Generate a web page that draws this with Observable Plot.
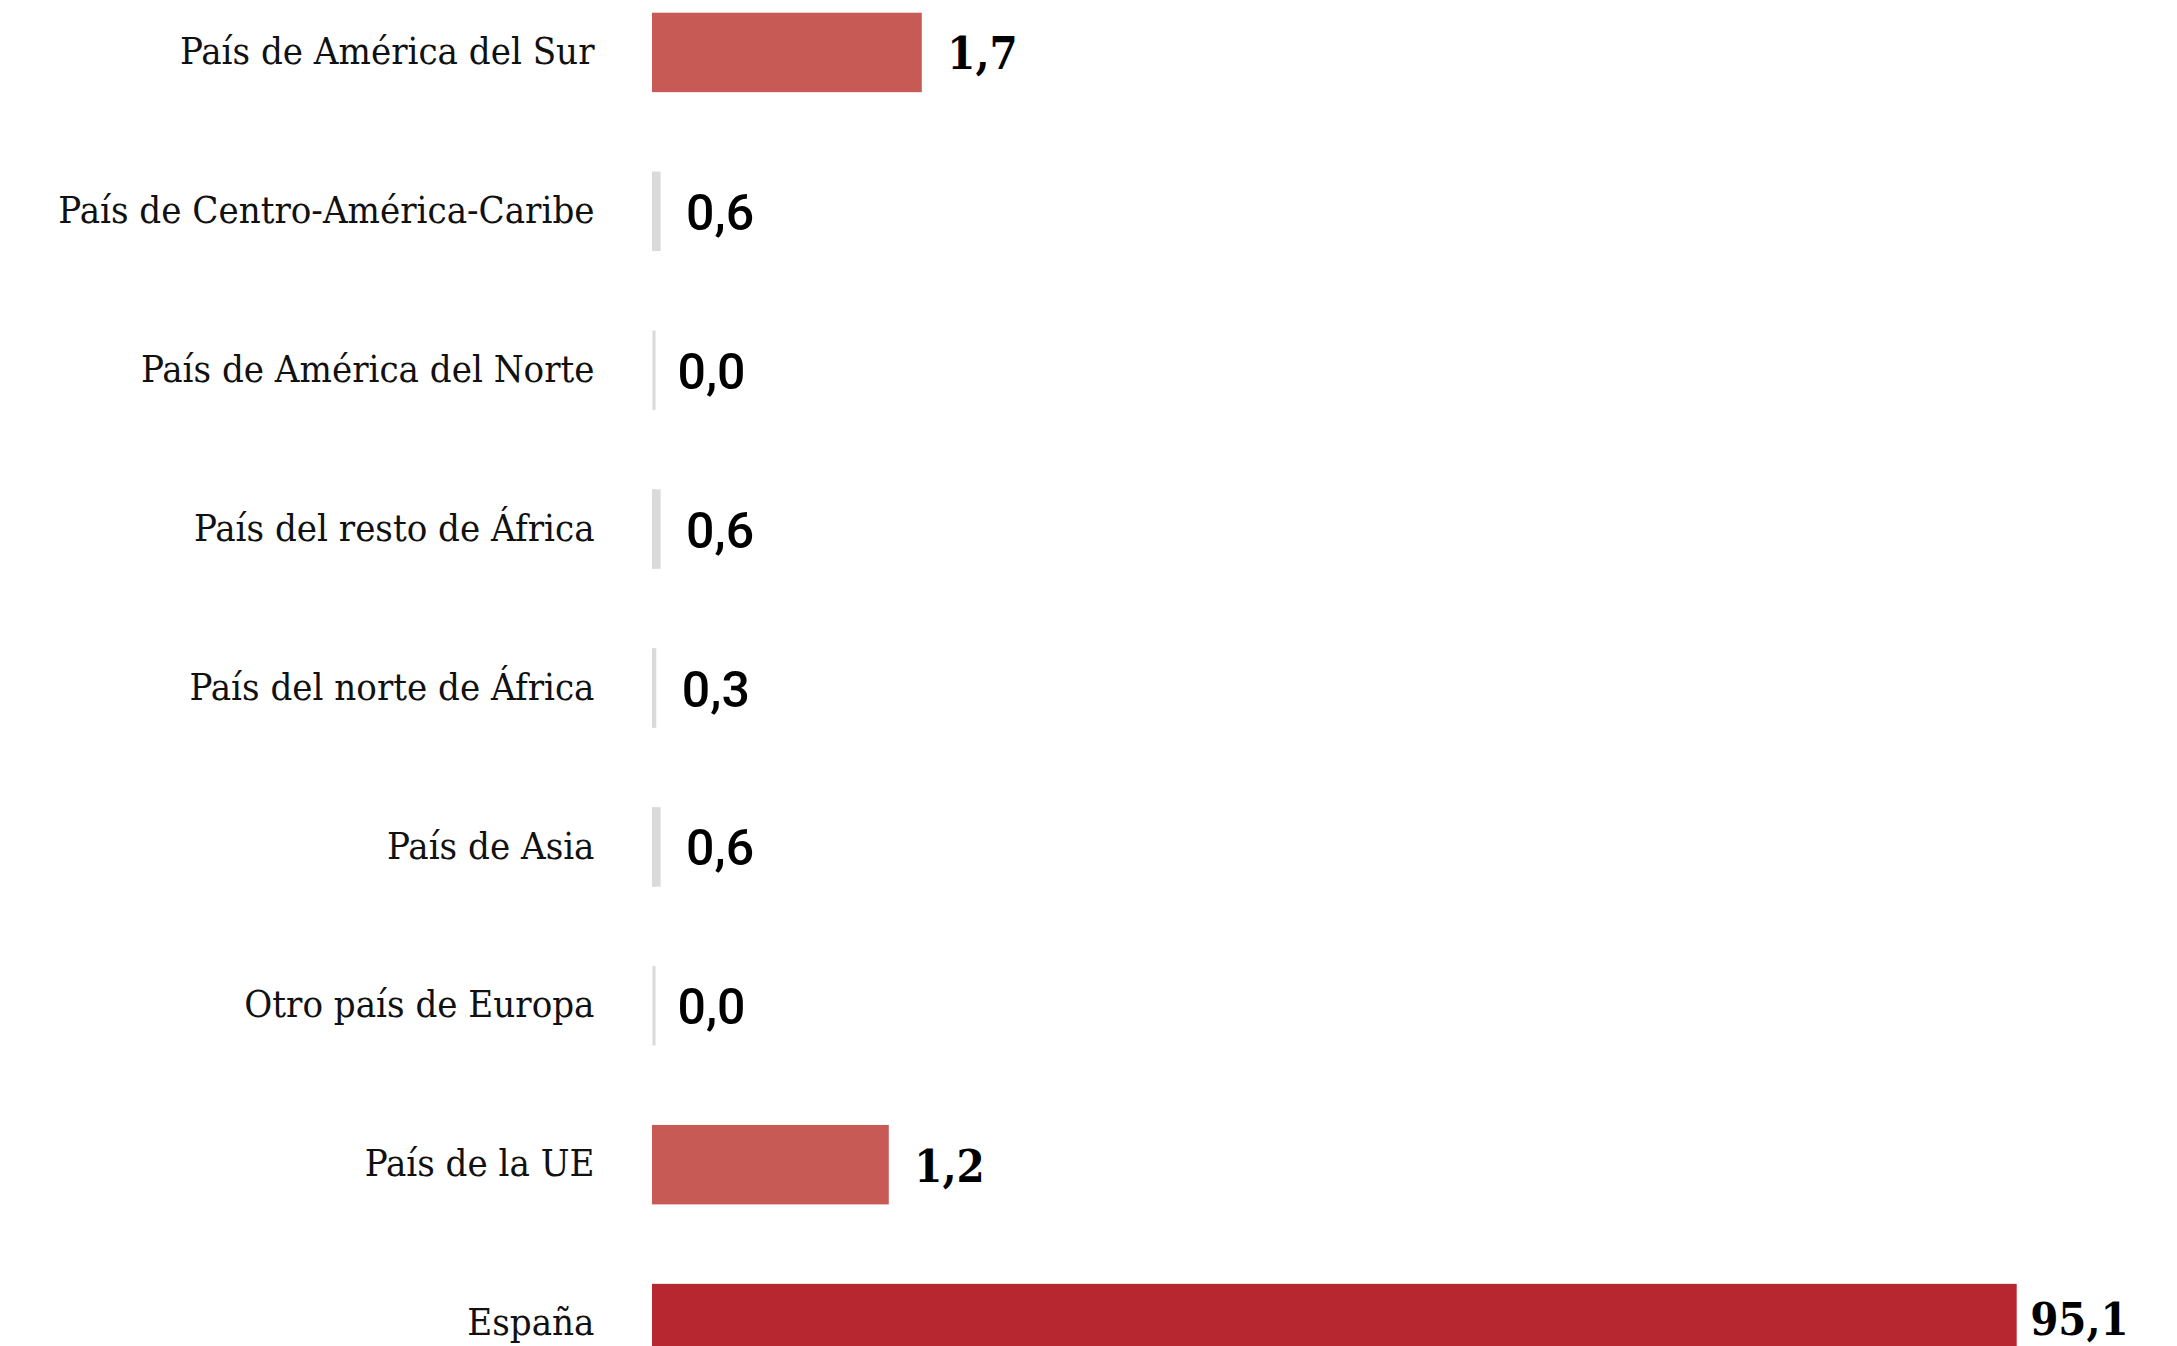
<!DOCTYPE html>
<html>
<head>
<meta charset="utf-8">
<script src="https://cdn.jsdelivr.net/npm/d3@7"></script>
<script src="https://cdn.jsdelivr.net/npm/@observablehq/plot@0.6"></script>
<style>
  html, body { margin: 0; padding: 0; background: #fff; overflow: hidden; }
  #chart svg { display: block; }
</style>
</head>
<body>
<div id="chart"></div>
<script>
// Categories, top to bottom
const categories = [
  "País de América del Sur",
  "País de Centro-América-Caribe",
  "País de América del Norte",
  "País del resto de África",
  "País del norte de África",
  "País de Asia",
  "Otro país de Europa",
  "País de la UE",
  "España"
];
// Printed values (%)
const values = [1.7, 0.6, 0.0, 0.6, 0.3, 0.6, 0.0, 1.2, 95.1];
// Bar lengths as drawn in the reference (same units as the axis)
const barLengths = [18.8, 0.6, 0.0, 0.6, 0.3, 0.6, 0.0, 16.5, 95.1];
// Colour group of each bar
const groups = ["otro", "menor", "menor", "menor", "menor", "menor", "menor", "otro", "espana"];

const groupColors = { otro: "#c75a55", menor: "#dadada", espana: "#b6272f" };

const data = categories.map((c, i) => ({
  category: c,
  value: values[i],
  length: barLengths[i],
  group: groups[i],
  label: values[i].toFixed(1).replace(".", ",")
}));

const slab = "'DejaVu Serif Condensed', 'DejaVu Serif', serif";
const sans = "Roboto, 'Open Sans', sans-serif";

const chart = Plot.plot({
  width: 2177,
  height: 1376,
  marginLeft: 652,
  marginRight: 90,
  marginTop: 0,
  marginBottom: 0,
  style: { background: "#fff", overflow: "visible" },
  x: { domain: [0, 100], axis: null },
  y: { domain: categories, padding: 0.5, paddingOuter: 0.08, round: false, axis: null },
  marks: [
    Plot.barX(data, { x1: 0, x2: "length", y: "category", fill: d => groupColors[d.group] }),
    Plot.tickX(data.filter(d => d.group === "menor"), {
      x: 0, y: "category", stroke: groupColors.menor, strokeWidth: 3, dx: 1.5
    }),
    Plot.text(data, {
      x: 0, y: "category", text: "category", textAnchor: "end", dx: -58, dy: -1,
      fontFamily: slab, fontSize: 38, fill: "#111"
    }),
    Plot.text(data.filter(d => d.group === "otro"), {
      x: "length", y: "category", text: "label", textAnchor: "start", dx: 25, dy: 2,
      fontFamily: slab, fontWeight: "bold", fontSize: 45, fill: "#000"
    }),
    Plot.text(data.filter(d => d.group === "espana"), {
      x: "length", y: "category", text: "label", textAnchor: "start", dx: 13, dy: -3,
      fontFamily: slab, fontWeight: "bold", fontSize: 45, fill: "#000"
    }),
    Plot.text(data.filter(d => d.group === "menor"), {
      x: "length", y: "category", text: "label", textAnchor: "start", dx: 25, dy: 2,
      fontFamily: sans, fontWeight: 500, fontSize: 50, fill: "#000"
    })
  ]
});

document.getElementById("chart").appendChild(chart);
</script>
</body>
</html>
